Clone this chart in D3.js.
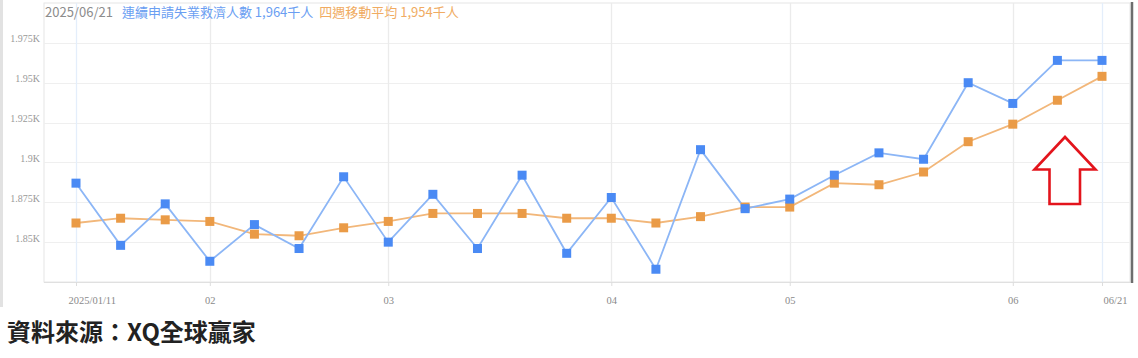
<!DOCTYPE html>
<html>
<head>
<meta charset="utf-8">
<script src="https://cdn.jsdelivr.net/npm/d3@7"></script>
<style>
  html, body { margin: 0; padding: 0; background: #fff; }
  svg { display: block; }
</style>
</head>
<body>
<svg id="chart" width="1138" height="358"></svg>
<script>
// ---- data (thousands of persons) ----
const dates = ["2025-01-11","2025-01-18","2025-01-25","2025-02-01","2025-02-08","2025-02-15",
  "2025-02-22","2025-03-01","2025-03-08","2025-03-15","2025-03-22","2025-03-29",
  "2025-04-05","2025-04-12","2025-04-19","2025-04-26","2025-05-03","2025-05-10",
  "2025-05-17","2025-05-24","2025-05-31","2025-06-07","2025-06-14","2025-06-21"];
const continuingClaims = [1887, 1848, 1874, 1838, 1861, 1846, 1891, 1850, 1880, 1846, 1892, 1843,
  1878, 1833, 1908, 1871, 1877, 1892, 1906, 1902, 1950, 1937, 1964, 1964];
const movingAvg4w = [1862, 1865, 1864, 1863, 1855, 1854, 1859, 1863, 1868, 1868, 1868, 1865,
  1865, 1862, 1866, 1872, 1872, 1887, 1886, 1894, 1913, 1924, 1939, 1954];
const xTickDates = ["2025-01-11","2025-02-01","2025-03-01","2025-04-05","2025-05-03","2025-06-07","2025-06-21"];
const xTickLabels = ["2025/01/11","02","03","04","05","06","06/21"];
const yTicks = [1850, 1875, 1900, 1925, 1950, 1975];
const legendDate = "2025/06/21";
const legendItems = [
  {name: "連續申請失業救濟人數", value: "1,964千人"},
  {name: "四週移動平均", value: "1,954千人"}
];
const sourceText = "資料來源：XQ全球贏家";

// ---- layout ----
const svg = d3.select("#chart");
const plot = {left: 44, right: 1130, top: 3, bottom: 282};
const parse = d3.timeParse("%Y-%m-%d");
const xDates = dates.map(parse);

const x = d3.scaleTime()
  .domain([xDates[0], xDates[xDates.length - 1]])
  .range([76, 1102]);
const y = d3.scaleLinear()
  .domain([1825, 2000])
  .range([plot.bottom, plot.top]);

const blueMark = "#4a8af4", blueLine = "#8cb6f6";
const orangeMark = "#ea9b47", orangeLine = "#f2b77a";

// left grey strip (screenshot frame)
svg.append("rect").attr("x", 0).attr("y", 0).attr("width", 3).attr("height", 307).attr("fill", "#e2e2e2");

// plot frame
svg.append("rect")
  .attr("x", plot.left).attr("y", plot.top)
  .attr("width", plot.right - plot.left).attr("height", plot.bottom - plot.top)
  .attr("fill", "#fff").attr("stroke", "#e6e6e6").attr("stroke-width", 1);

// horizontal grid
svg.append("g").selectAll("line").data(yTicks).join("line")
  .attr("x1", plot.left).attr("x2", plot.right)
  .attr("y1", d => Math.round(y(d)) + 0.5).attr("y2", d => Math.round(y(d)) + 0.5)
  .attr("stroke", "#efefef").attr("stroke-width", 1.2);

// vertical grid
const tickData = xTickDates.map((d, i) => ({date: parse(d), label: xTickLabels[i], i}));
svg.append("g").selectAll("line").data(tickData).join("line")
  .attr("x1", d => Math.round(x(d.date)) + 0.5).attr("x2", d => Math.round(x(d.date)) + 0.5)
  .attr("y1", plot.top).attr("y2", plot.bottom)
  .attr("stroke", d => (d.i === 0 || d.i === tickData.length - 1) ? "#e4eefb" : "#ebebeb")
  .attr("stroke-width", 1.3);

// bottom axis line
svg.append("line")
  .attr("x1", plot.left).attr("x2", plot.right)
  .attr("y1", plot.bottom + 0.5).attr("y2", plot.bottom + 0.5)
  .attr("stroke", "#e0e0e0");

// x axis ticks + labels
const xAxis = d3.axisBottom(x)
  .tickValues(tickData.map(d => d.date))
  .tickFormat((d, i) => xTickLabels[i])
  .tickSize(4).tickPadding(11);
const gx = svg.append("g").attr("transform", `translate(0,${plot.bottom})`).call(xAxis);
gx.select(".domain").remove();
gx.selectAll(".tick line").attr("stroke", "#ddd");
gx.selectAll(".tick text")
  .attr("fill", "#8a8a8a")
  .style("font-family", "'Liberation Serif', 'DejaVu Serif', serif")
  .style("font-size", "10.5px")
  .attr("text-anchor", (d, i) => i === 0 ? "start" : (i === xTickLabels.length - 1 ? "end" : "middle"))
  .attr("dx", (d, i) => i === 0 ? -8 : (i === xTickLabels.length - 1 ? 25 : 0));

// y axis labels
const yAxis = d3.axisLeft(y).tickValues(yTicks)
  .tickFormat(d => (d / 1000) + "K").tickSize(0).tickPadding(4);
const gy = svg.append("g").attr("transform", `translate(${plot.left},0)`).call(yAxis);
gy.select(".domain").remove();
gy.selectAll(".tick text")
  .attr("fill", "#9a9a9a")
  .attr("dy", "-0.1em")
  .style("font-family", "'Liberation Serif', 'DejaVu Serif', serif")
  .style("font-size", "10px");

// right dark edge
svg.append("line").attr("x1", 1132).attr("x2", 1132).attr("y1", 2).attr("y2", 283)
  .attr("stroke", "#6d6d6d").attr("stroke-width", 2.5);

// series
const series = [
  {values: continuingClaims, line: blueLine, mark: blueMark},
  {values: movingAvg4w, line: orangeLine, mark: orangeMark}
];
const lineGen = d3.line().x((d, i) => x(xDates[i])).y(d => y(d));
series.slice().reverse().forEach(s => {
  svg.append("path").datum(s.values)
    .attr("d", lineGen).attr("fill", "none")
    .attr("stroke", s.line).attr("stroke-width", 1.8);
});
series.slice().reverse().forEach(s => {
  svg.append("g").selectAll("rect").data(s.values).join("rect")
    .attr("x", (d, i) => x(xDates[i]) - 4.5)
    .attr("y", d => y(d) - 4.5)
    .attr("width", 9).attr("height", 9)
    .attr("fill", s.mark);
});

// legend
const legend = svg.append("text").attr("x", 45).attr("y", 17)
  .style("font-family", "'Noto Sans CJK TC', 'Noto Sans', sans-serif")
  .style("font-size", "13px");
legend.append("tspan").attr("fill", "#8c8c8c").text(legendDate);
legend.append("tspan").attr("dx", 9).attr("fill", "#6a9ef2")
  .text(legendItems[0].name + " " + legendItems[0].value);
legend.append("tspan").attr("dx", 6).attr("fill", "#f0ab62")
  .text(legendItems[1].name + " " + legendItems[1].value);

// red up-arrow annotation
const arrow = [[1065, 137], [1095.5, 169.5], [1080, 169.5], [1080, 204], [1049.5, 204], [1049.5, 169.5], [1034.5, 169.5]];
svg.append("path")
  .attr("d", d3.line()(arrow) + "Z")
  .attr("fill", "#fff").attr("stroke", "#e3141c").attr("stroke-width", 2.6)
  .attr("stroke-linejoin", "miter");

// source
svg.append("text").attr("x", 7).attr("y", 341)
  .style("font-family", "'Noto Sans CJK TC', sans-serif")
  .style("font-weight", 700)
  .style("font-size", "24px")
  .attr("fill", "#222")
  .text(sourceText);
</script>
</body>
</html>
